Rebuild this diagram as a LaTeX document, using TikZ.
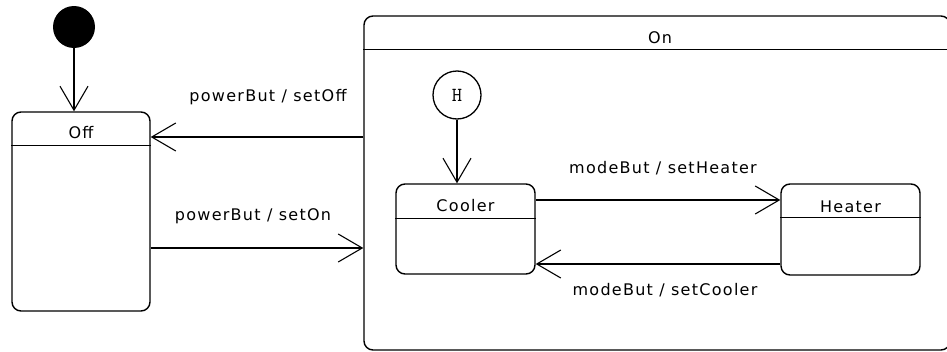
\documentclass[tikz,border=0pt]{standalone}
\usepackage{fontspec}
\setsansfont{DejaVu Sans}[LetterSpace=8]
\usetikzlibrary{arrows.meta,positioning}

\begin{document}
\begin{tikzpicture}[x=1pt,y=-1pt,
    state/.style={draw, line width=1.4pt, rounded corners=9pt, inner sep=0pt},
    trans/.style={line width=1.3pt, -{Straight Barb[length=24pt,width=28pt,line width=1.1pt]}},
    lbl/.style={font=\sffamily\fontsize{16}{18}\selectfont, inner sep=0pt}]

\clip (0,0) rectangle (947,351);

% States
\node[fill=black, circle, minimum size=42pt, inner sep=0pt] (init) at (74,27) {};
\node[state, minimum width=138pt, minimum height=199pt] (off) at (81,211.5) {};
\node[state, minimum width=586pt, minimum height=334pt] (on) at (657,183) {};
\node[draw, circle, line width=1.3pt, minimum size=48pt, inner sep=0pt,
      font=\ttfamily\fontsize{20}{22}\selectfont] (hist) at (457,95) {H};
\node[state, minimum width=139pt, minimum height=90pt] (cooler) at (465.5,229) {};
\node[state, minimum width=139pt, minimum height=91pt] (heater) at (850.5,229.5) {};

% Header lines and names
\foreach \s/\h in {off/34, on/34, cooler/35, heater/34} {
    \draw[line width=1.3pt] ([yshift=-\h pt]\s.north west) -- ([yshift=-\h pt]\s.north east);
}
\node[lbl] (offname) at ([yshift=-21pt]off.north) {Off};
\node[lbl] (onname) at ([xshift=3pt,yshift=-22pt]on.north) {On};
\node[lbl] (coolername) at ([yshift=-22pt]cooler.north) {Cooler};
\node[lbl] (heatername) at ([yshift=-23pt]heater.north) {Heater};

% Transitions
\coordinate (yoff) at (0,137);
\coordinate (yon) at (0,248);
\coordinate (yheat) at (0,200);
\coordinate (ycool) at (0,264);

\draw[trans] (init) -- (init |- off.north);
\draw[trans] (hist) -- (hist |- cooler.north);
\draw[trans] (on.west |- yoff) -- (off.east |- yoff);
\draw[trans] (off.east |- yon) -- (on.west |- yon);
\draw[trans] (cooler.east |- yheat) -- (heater.west |- yheat);
\draw[trans] (heater.west |- ycool) -- (cooler.east |- ycool);

% Transition labels
\node[lbl] (setoff) at (268,97) {powerBut / setOff};
\node[lbl] (seton) at (253,216) {powerBut / setOn};
\node[lbl] (setheater) at (663,168) {modeBut / setHeater};
\node[lbl] (setcooler) at (665,290) {modeBut / setCooler};

\end{tikzpicture}
\end{document}
